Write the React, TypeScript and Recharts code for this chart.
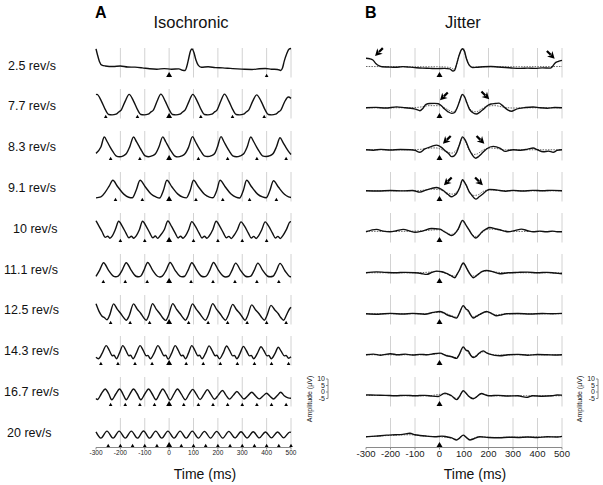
import React from "react";
import { ComposedChart, Line, Scatter, XAxis, YAxis, ReferenceLine } from "recharts";

type Pt = [number, number];

const FONT = '"Liberation Sans", Arial, Helvetica, sans-serif';

// labels
const rateLabels = ["2.5 rev/s", "7.7 rev/s", "8.3 rev/s", "9.1 rev/s", "10 rev/s", "11.1 rev/s", "12.5 rev/s", "14.3 rev/s", "16.7 rev/s", "20 rev/s"];
const timeTicks = [-300, -200, -100, 0, 100, 200, 300, 400, 500];
const ampTicks = [-5, 0, 5, 10];

// stimulus onsets (ms) for the isochronic panels
const stim25 = [0, 400];
const stim77 = [-260, -130, 0, 130, 260, 390];
const stim83 = [-240, -120, 0, 120, 240, 360, 480];
const stim91 = [-220, -110, 0, 110, 220, 330, 440];
const stim10 = [-200, -100, 0, 100, 200, 300, 400];
const stim111 = [-270, -180, -90, 0, 90, 180, 270, 360, 450];
const stim125 = [-240, -160, -80, 0, 80, 160, 240, 320, 400, 480];
const stim143 = [-280, -210, -140, -70, 0, 70, 140, 210, 280, 350, 420, 490];
const stim167 = [-240, -180, -120, -60, 0, 60, 120, 180, 240, 300, 360, 420, 480];
const stim20 = [-250, -200, -150, -100, -50, 0, 50, 100, 150, 200, 250, 300, 350, 400, 450, 500];
const jitStim = [0];

// isochronic responses [time ms, amplitude uV]
const iso25: Pt[] = [[-300, 13.4], [-294, 9], [-286, 4], [-276, 1.2], [-262, 0.6], [-230, 0.2], [-200, 0.6], [-170, -0.2], [-140, -0.3], [-110, -0.8], [-80, -1.5], [-50, -1.8], [-20, -1.4], [10, -1.8], [40, -1.6], [55, -2.6], [66, -2.8], [72, 0], [80, 6], [88, 12], [94, 13.2], [101, 11], [110, 5], [120, 1], [132, -0.4], [160, 0], [190, -0.6], [220, -0.8], [250, -1.2], [280, -1.6], [310, -1.9], [340, -2], [370, -1.5], [395, -1.3], [420, -1.8], [445, -2], [458, -2.8], [465, -1], [472, 4], [482, 9.5], [492, 13.2], [500, 13.6]];
const iso77: Pt[] = [[-300, 9.8], [-296, 10], [-278, 5], [-260, -2], [-248, -5], [-234, -5.3], [-218, -4.8], [-208, -3.4], [-196, -1.5], [-180, 5], [-164, 10], [-146, 5], [-128, -2], [-116, -5], [-102, -5.3], [-86, -4.8], [-76, -3.4], [-64, -1.5], [-49, 5], [-34, 10.2], [-16, 5], [2, -2], [14, -5], [28, -5.3], [44, -4.8], [54, -3.4], [66, -1.5], [82, 5], [97, 10], [115, 5], [133, -2], [145, -5], [159, -5.3], [175, -4.8], [185, -3.4], [197, -1.5], [212, 5], [227, 10.2], [245, 5], [263, -2], [275, -5], [289, -5.3], [305, -4.8], [315, -3.4], [327, -1.5], [343, 5], [359, 9.6], [377, 5], [395, -2], [407, -5], [421, -5.3], [437, -4.8], [447, -3.4], [459, -1.5], [474, 4.5], [489, 8], [500, 7]];
const iso83: Pt[] = [[-300, -2.7], [-280, 2], [-266, 9.5], [-254, 6], [-242, 2], [-232, -1], [-218, -4.5], [-204, -5.2], [-188, -4.5], [-176, -3], [-162, 2], [-146, 9.5], [-134, 6], [-122, 2.2], [-112, -1], [-98, -4.6], [-84, -5.2], [-68, -4.4], [-56, -3], [-42, 2], [-26, 9.6], [-14, 6], [-2, 2], [8, -1], [22, -4.5], [36, -5.3], [52, -4.5], [64, -3.2], [80, 2], [96, 9.8], [108, 6], [120, 2], [130, -1], [144, -4.5], [158, -5], [174, -4.3], [186, -3], [198, 2], [213, 9.8], [225, 6], [237, 2], [247, -1], [261, -4.6], [276, -5.2], [292, -4.5], [306, -3], [320, 2], [335, 9.5], [347, 6], [359, 2], [369, -1], [383, -4.5], [398, -5], [414, -4.4], [426, -3], [440, 2], [455, 9], [467, 5.5], [479, 1.8], [489, -1], [500, -3.5]];
const iso91: Pt[] = [[-300, -5.3], [-280, -4.6], [-262, -1], [-246, 3.5], [-231, 7.8], [-211, 3], [-186, -2.5], [-166, -4.8], [-151, -5.2], [-136, 0], [-119, 7.8], [-99, 3.2], [-74, -2.4], [-54, -4.6], [-39, -5.4], [-24, 0], [-9, 7.9], [11, 3], [36, -2.5], [56, -4.8], [71, -5.3], [86, 0], [100, 7.8], [120, 3], [145, -2.6], [165, -4.7], [180, -5.2], [195, 0], [209, 7.8], [229, 3.2], [254, -2.4], [274, -4.8], [289, -5.4], [304, 0], [318, 7.8], [338, 3], [363, -2.5], [383, -4.6], [398, -5.2], [413, 0], [428, 7.5], [448, 2.8], [473, -2.6], [490, -4.5], [500, -5]];
const iso10: Pt[] = [[-300, 8.2], [-290, 5], [-275, 0], [-262, -4.2], [-252, -3.3], [-243, -4.8], [-233, -3], [-220, 2], [-207, 7.8], [-192, 4], [-177, -1], [-165, -4.5], [-155, -3.3], [-145, -4.8], [-135, -3], [-122, 1.5], [-109, 7.8], [-94, 4], [-79, -1], [-67, -4.5], [-57, -3.2], [-47, -4.9], [-37, -3], [-20, 1.5], [-5, 8], [10, 4], [25, -1], [37, -4.6], [47, -3.3], [57, -4.8], [67, -3], [80, 1.5], [93, 7.6], [108, 4], [123, -1], [135, -4.6], [145, -3.3], [155, -4.8], [165, -3], [179, 1.5], [193, 7.8], [208, 4], [223, -1], [235, -4.5], [245, -3.4], [255, -5], [265, -3], [280, 1.5], [295, 7.4], [310, 4], [325, -1], [337, -4.6], [347, -3.4], [357, -5], [367, -3], [380, 1.5], [394, 7.4], [409, 4], [424, -1], [436, -4.6], [446, -3.4], [456, -5], [466, -3], [482, 2], [496, 7.4], [500, 7.5]];
const iso111: Pt[] = [[-300, -2.7], [-285, 2], [-269, 7.5], [-249, 2], [-229, -2.5], [-219, -3], [-209, -2.5], [-193, 1.8], [-176, 7.5], [-156, 2], [-136, -2.6], [-126, -3], [-116, -2.4], [-103, 2], [-88, 7.7], [-68, 2], [-48, -2.6], [-38, -3.1], [-28, -2.5], [-12, 2], [4, 7.7], [24, 2], [44, -2.5], [54, -3], [64, -2.6], [78, 2], [93, 7.5], [113, 2], [133, -2.6], [143, -3], [153, -2.4], [167, 2], [182, 7.7], [202, 2], [222, -2.5], [232, -3.1], [244, -2.6], [258, 1.8], [273, 7.2], [293, 1.8], [313, -2.6], [323, -3], [335, -2.5], [349, 1.8], [364, 7.2], [384, 1.8], [404, -2.6], [414, -3], [426, -2.6], [440, 1.5], [455, 7], [475, 1.5], [495, -2.8], [500, -3]];
const iso125: Pt[] = [[-300, 7.4], [-288, 2], [-276, -1.6], [-265, -3], [-255, -4.5], [-244, -1], [-228, 7.4], [-213, 3.5], [-198, 0], [-188, -2.5], [-176, -4.8], [-164, -1.5], [-146, 7.4], [-131, 3.5], [-116, 0.2], [-106, -2.5], [-94, -4.8], [-84, -1.5], [-68, 7.6], [-53, 3.5], [-38, 0], [-28, -2.6], [-14, -4.9], [-3, -1.5], [15, 7.6], [30, 3.5], [45, 0], [55, -2.5], [67, -4.8], [78, -1.5], [96, 7.4], [111, 3.5], [126, 0], [136, -2.5], [149, -4.8], [160, -1.5], [179, 7.6], [194, 3.5], [209, 0], [219, -2.6], [231, -4.8], [242, -1.5], [261, 7], [276, 3.2], [291, 0], [301, -2.6], [312, -4.8], [322, -1.5], [339, 6.6], [354, 3], [369, 0], [379, -2.6], [391, -4.8], [401, -1.5], [418, 6.3], [433, 3], [448, 0], [458, -2.8], [470, -4.8], [480, -1.5], [492, 3], [500, 4.8]];
const iso143: Pt[] = [[-300, -1.8], [-290, -3], [-275, 1], [-258, 6.8], [-246, 3.5], [-233, -0.7], [-226, -0.4], [-216, -3], [-204, 1.2], [-190, 6.8], [-178, 3.5], [-165, -0.7], [-158, -0.4], [-148, -3], [-135, 1], [-119, 6.8], [-107, 3.5], [-94, -0.7], [-87, -0.5], [-77, -3], [-62, 1], [-46, 6.8], [-34, 3.5], [-21, -0.7], [-14, -0.4], [-4, -3.2], [10, 1], [25, 6.8], [37, 3.5], [50, -0.7], [57, -0.4], [67, -3], [79, 1], [93, 6.8], [105, 3.5], [118, -0.7], [125, -0.4], [135, -3], [149, 1], [164, 6.6], [176, 3.3], [189, -0.7], [196, -0.4], [206, -3], [221, 1], [236, 6.5], [248, 3.2], [261, -0.8], [268, -0.5], [278, -3], [291, 1], [305, 6.3], [317, 3], [330, -0.8], [337, -0.5], [347, -3], [362, 1], [377, 6], [389, 3], [402, -0.8], [409, -0.5], [419, -3], [434, 0.8], [448, 5.6], [460, 2.5], [473, -0.8], [480, -0.5], [490, -2.6], [500, -1.5]];
const iso167: Pt[] = [[-300, -2], [-294, -2.8], [-278, 1.5], [-262, 5.1], [-248, 1.5], [-235, -3], [-219, 1.3], [-203, 5.1], [-190, 1.5], [-176, -3], [-161, 1.3], [-146, 5], [-131, 1.5], [-116, -3], [-100, 1.3], [-84, 5], [-70, 1.5], [-54, -3], [-40, 1.3], [-26, 5], [-11, 1.2], [4, -3.2], [19, 1], [34, 5], [50, 1.2], [66, -3], [81, 1], [97, 4.8], [112, 1], [127, -2.8], [142, 0.8], [157, 4.6], [172, 0.8], [186, -2.6], [202, 0.5], [219, 3.9], [233, 0.5], [247, -2.5], [263, 0.3], [278, 3.2], [293, 0.3], [307, -2.4], [323, 0], [339, 2.6], [354, 0], [369, -2.3], [385, -0.2], [400, 1.9], [414, -0.4], [428, -2.4], [443, 0], [458, 2.6], [472, 0], [488, -1.6], [500, -1.8]];
const iso20: Pt[] = [[-300, 3.6], [-280, -1], [-255, 4.2], [-230, -1], [-205, 4.2], [-180, -1], [-155, 4.2], [-130, -1], [-105, 4.3], [-80, -1], [-55, 4.2], [-30, -1], [-5, 4.2], [20, -1], [45, 4.2], [70, -1], [95, 4.2], [120, -1], [145, 4], [170, -1], [195, 4], [220, -1], [245, 4], [270, -0.8], [295, 3.8], [320, -0.8], [345, 3.8], [370, -0.8], [395, 3.6], [420, -0.8], [445, 3.6], [470, -0.8], [495, 3.5], [500, 3.2]];

// jitter responses: measured (solid) and predicted (dotted)
const jit25: Pt[] = [[-300, 6.4], [-285, 6], [-272, 5], [-260, 2.5], [-246, 0.6], [-235, 0], [-210, -0.2], [-180, -0.4], [-150, 0.1], [-120, -0.3], [-100, -0.6], [-70, -1], [-40, -1.2], [-10, -1.4], [20, -1.2], [42, -1.6], [55, -3.2], [62, -2.6], [70, 2], [80, 8.5], [93, 13.4], [101, 12], [110, 6], [122, 1], [135, -0.5], [150, -0.4], [180, 0], [210, 0.2], [240, -0.2], [270, -0.5], [300, -1], [330, -1.2], [360, -1], [390, -1.2], [420, -0.8], [452, -1], [460, 0], [470, 2.5], [485, 4], [500, 4.8]];
const jit25p: Pt[] = [[-300, 0.2], [-200, 0.1], [-100, 0], [0, 0], [45, -0.6], [60, -2], [70, 2], [80, 8.5], [93, 13], [101, 11.5], [110, 6], [122, 1], [135, -0.3], [200, 0.1], [300, 0], [400, 0.1], [500, 0.2]];
const jit77: Pt[] = [[-300, 0], [-260, 0.3], [-220, -0.2], [-175, 0.7], [-140, 0], [-110, -0.5], [-95, -1.2], [-80, -2.2], [-68, -0.5], [-55, 2.5], [-40, 3.2], [-20, 3.3], [-5, 3], [8, 1.5], [20, -0.8], [35, -3], [50, -4.2], [62, -3.5], [72, 0], [82, 5], [93, 10], [103, 8], [112, 3.5], [122, -1], [135, -3.5], [150, -4.6], [165, -3.2], [180, -1], [195, 1.5], [210, 2.8], [228, 3.2], [243, 3.5], [255, 2], [267, 0], [280, -1.8], [295, -2.6], [308, -1.5], [325, -0.5], [350, 0.2], [382, 0.6], [410, 0], [440, -0.3], [470, 0.2], [500, 0]];
const jit77p: Pt[] = [[-300, 0], [-200, 0], [-120, 0], [-80, 0.5], [-40, 1.6], [0, 1.5], [30, -1], [55, -3], [70, -1], [82, 4.5], [93, 9.5], [104, 7], [118, 1], [135, -2.5], [150, -3], [170, -1], [195, 1.2], [225, 1.6], [260, 0.5], [300, -0.2], [350, 0], [500, 0]];
const jit83: Pt[] = [[-300, 0], [-270, -0.3], [-240, 0.3], [-200, -0.2], [-160, 0.2], [-120, 0], [-100, -0.4], [-80, -1.9], [-60, 0.6], [-32, 2.5], [-12, 3.5], [8, 1.8], [22, -0.5], [36, -2.6], [49, -5.1], [60, -4.5], [70, -1.9], [80, 3], [94, 9.6], [104, 7.5], [112, 4.5], [122, 0], [131, -3.1], [148, -6.3], [160, -5], [171, -3.1], [192, 0.6], [219, 2.5], [246, 1.3], [267, -1.2], [285, -0.4], [301, 0], [330, -0.3], [360, 0.5], [382, 1.3], [400, 0], [423, -1.5], [445, -1], [464, -1.9], [480, -0.5], [500, 0]];
const jit83p: Pt[] = [[-300, 0], [-150, 0], [-80, 0.3], [-40, 1.2], [-15, 1.4], [10, 0], [30, -1.5], [50, -2.5], [68, -0.5], [80, 3], [94, 8.8], [106, 6], [120, 0], [140, -3.5], [155, -3], [175, -0.5], [205, 1.3], [230, 1], [270, 0], [500, 0]];
const jit91: Pt[] = [[-300, 0], [-250, -0.2], [-200, 0.2], [-150, -0.1], [-110, 0.2], [-80, -1], [-55, 0.5], [-32, 1.8], [-12, 2.4], [15, 0.2], [35, -2.8], [49, -4.5], [60, -3.5], [70, -2], [83, 2.7], [94, 8.2], [103, 6], [110, 3.8], [122, -1], [131, -3.1], [148, -6.2], [162, -4.5], [178, -2.2], [192, 0], [205, 1], [225, 0.8], [246, 0.2], [270, -0.3], [300, 0.3], [340, -0.2], [380, 0.3], [420, 0], [460, 0.3], [500, 0]];
const jit91p: Pt[] = [[-300, 0], [-150, 0], [-80, 0.2], [-30, 1.2], [0, 0.8], [30, -1.5], [52, -2.5], [70, -1], [83, 2.7], [94, 8], [105, 5.5], [120, 0], [140, -3.5], [158, -3], [178, -0.5], [205, 0.8], [240, 0.3], [300, 0], [500, 0]];
const jit10: Pt[] = [[-300, 0], [-257, 1.8], [-230, 0.5], [-202, 0], [-175, 0.8], [-148, 1.8], [-120, 0.5], [-100, -0.4], [-70, 0.5], [-32, 2.4], [2, 2], [20, 0], [36, -1.7], [49, -2.9], [62, -1.5], [76, 2], [94, 8.5], [110, 4.4], [122, 1], [131, -1.7], [148, -4.6], [160, -3], [171, -0.5], [190, 2], [205, 3.2], [230, 2.2], [246, 1.5], [265, 0.5], [280, 0], [310, 1], [334, 2], [360, 0.8], [382, 0], [410, 0.5], [436, 0], [460, 0.5], [480, 0], [500, 0]];
const jit10p: Pt[] = [[-300, 0.3], [-150, 0.3], [-50, 1], [-10, 1.5], [20, 0.5], [45, -2], [62, -1], [78, 2], [94, 7.8], [110, 4], [128, -1], [148, -3.5], [170, -1], [200, 2], [240, 1.5], [280, 0.3], [500, 0.2]];
const jit111: Pt[] = [[-300, 0], [-257, 0.7], [-220, 0.3], [-180, 0], [-140, 0.3], [-100, 0], [-75, -0.5], [-53, -1.2], [-30, 0.3], [-12, 1.2], [10, 0.8], [29, -0.5], [45, -2], [63, -3.7], [72, -1], [80, 1.5], [97, 7.3], [105, 5.5], [110, 3.7], [125, -1], [138, -3.7], [150, -2.4], [158, -1.2], [175, 1], [192, 1.7], [219, 0.7], [246, -0.7], [280, 0], [320, 0.3], [360, 0.5], [400, 0], [440, 0.3], [470, -0.2], [500, -0.7]];
const jit111p: Pt[] = [[-300, 0], [-100, 0], [-40, 0.5], [-10, 1], [20, 0], [50, -2], [65, -2.5], [80, 1.5], [97, 6.8], [112, 3], [130, -2.5], [145, -2.2], [165, 0], [195, 1.5], [230, 0.5], [270, 0], [500, 0]];
const jit125: Pt[] = [[-300, 0], [-250, -0.3], [-200, 0.3], [-150, -0.2], [-110, 0.3], [-60, -0.3], [-26, 1], [2, 1.7], [20, 0.5], [29, -0.7], [50, -2], [70, -3.2], [80, 0], [97, 6.1], [108, 3.5], [117, 2.4], [128, -1], [138, -3.2], [150, -2], [165, -0.5], [192, 1.7], [215, 0], [232, -1.5], [255, -0.7], [273, 0], [320, 0.2], [370, -0.2], [420, 0.2], [460, 0], [500, 0.3]];
const jit125p: Pt[] = [[-300, 0], [-60, 0], [-10, 1], [20, 0.5], [50, -1.5], [68, -2.5], [80, 0], [97, 5.6], [115, 2], [135, -2.5], [155, -1], [190, 1.2], [230, -0.8], [270, 0], [500, 0]];
const jit143: Pt[] = [[-300, 0], [-270, 0.5], [-240, -0.3], [-200, 0.8], [-170, 0], [-140, 0.5], [-110, -0.2], [-80, 0.3], [-50, 0], [-32, 0.5], [2, 1.2], [29, -0.7], [50, -1.5], [70, -2.7], [80, 0], [97, 5.9], [108, 3.5], [117, 2.9], [128, -0.5], [138, -2], [150, -1], [158, 0.5], [178, 2.9], [192, 1.5], [205, 0.5], [246, -0.7], [280, 0], [320, 0.3], [360, -0.3], [400, 0.2], [440, 0], [470, -0.2], [500, 0]];
const jit143p: Pt[] = [[-300, 0], [-50, 0], [0, 0.8], [30, -0.3], [65, -2], [80, 0], [97, 5.3], [115, 2], [135, -1.5], [150, -0.8], [178, 2.2], [210, 0.3], [250, -0.3], [300, 0], [500, 0]];
const jit167: Pt[] = [[-300, 0.7], [-260, 0.5], [-220, 0.3], [-180, 0], [-140, 0.3], [-100, 0], [-60, 0.3], [-30, -0.3], [-5, -0.5], [22, 2], [49, 0], [70, -2.9], [80, -1], [97, 3.7], [108, 2], [117, 0], [138, -2.2], [150, -1], [171, 1.7], [190, 0.5], [205, 0], [240, 0.3], [280, -0.2], [320, 0], [355, -1.2], [380, 0], [420, -0.3], [460, 0], [480, 0.6], [500, 0.5]];
const jit167p: Pt[] = [[-300, 0.3], [-50, 0], [20, 1.3], [50, -0.3], [70, -2], [97, 3.2], [120, -0.3], [138, -1.8], [171, 1.3], [210, 0], [500, 0]];
const jit20: Pt[] = [[-300, 0], [-260, 0.5], [-216, 1.2], [-180, 1.5], [-150, 1.8], [-121, 2.6], [-100, 1.5], [-80, 1], [-53, 0.5], [-20, 0], [10, 0.5], [29, 0], [50, -0.8], [70, -2.4], [82, -1], [97, 1.2], [108, -0.3], [124, -2.4], [140, -1.5], [165, 0], [200, -0.5], [246, -0.7], [280, -0.3], [320, -0.5], [360, -0.2], [400, -0.5], [440, 0], [480, -0.2], [500, 0.3]];
const jit20p: Pt[] = [[-300, 0], [-200, 1], [-120, 1.5], [-60, 0.5], [0, 0], [50, -1], [70, -2], [97, 1], [124, -2], [160, 0], [220, -0.5], [300, -0.3], [500, 0]];

// arrow annotations [time, amplitude at tip, direction]
const arrows25: [number, number, string][] = [[-263, 8.1, "l"], [470, 6, "r"]];
const arrows77: [number, number, string][] = [[2, 5.6, "l"], [203, 6.3, "r"]];
const arrows83: [number, number, string][] = [[14, 4.5, "l"], [183, 4.5, "r"]];
const arrows91: [number, number, string][] = [[18, 4.1, "l"], [177, 4.1, "r"]];

const isoSeries = [iso25, iso77, iso83, iso91, iso10, iso111, iso125, iso143, iso167, iso20];
const isoStims = [stim25, stim77, stim83, stim91, stim10, stim111, stim125, stim143, stim167, stim20];
const jitSeries = [jit25, jit77, jit83, jit91, jit10, jit111, jit125, jit143, jit167, jit20];
const jitPred = [jit25p, jit77p, jit83p, jit91p, jit10p, jit111p, jit125p, jit143p, jit167p, jit20p];
const jitArrows = [arrows25, arrows77, arrows83, arrows91];

// layout
const LEFT_X = 96;
const RIGHT_X = 366;
const PLOT_H = 29.5;
const M = { top: 3, right: 14, bottom: 2, left: 14 };
const rowTop = (i: number) => 48.3 + 41.1 * i;
const labelLeft = [8, 8, 8, 8, 13, 4, 4, 4, 4, 7];

const toPts = (a: Pt[]) => a.map(([t, v]) => ({ t, v }));

const Triangle = (p: any) => {
  const big = (p.payload ? p.payload.t : p.t) === 0;
  const w = big ? 3 : 1.8;
  const h = big ? 5 : 3.2;
  const y0 = p.cy - 0.6;
  return <polygon points={`${p.cx - w},${y0} ${p.cx + w},${y0} ${p.cx},${y0 - h}`} fill="#000" />;
};

const Arrow = (p: any) => {
  const dir = p.payload ? p.payload.dir : p.dir;
  const ang = dir === "l" ? 135 : 45;
  return (
    <g transform={`translate(${p.cx},${p.cy}) rotate(${ang})`}>
      <polygon points="0,0 -7,-3.8 -5,0 -7,3.8" fill="#000" />
      <line x1={-5.5} y1={0} x2={-11} y2={0} stroke="#000" strokeWidth={2.2} />
    </g>
  );
};

function Panel({ left, top, width, solid, pred, stims, arrows, last, tickFont }: any) {
  const labH = 16;
  const W = width + M.left + M.right;
  const H = PLOT_H + M.top + M.bottom + (last ? labH : 0);
  return (
    <div style={{ position: "absolute", left: left - M.left, top: top - M.top }}>
      <ComposedChart width={W} height={H} margin={M}>
        {last ? (
          <XAxis type="number" dataKey="t" domain={[-300, 500]} ticks={timeTicks} interval={0} height={labH} tickSize={2} tickMargin={1} stroke="#8a8a8a" tick={{ fontSize: tickFont, fill: "#1a1a1a", fontFamily: FONT }} />
        ) : (
          <XAxis type="number" dataKey="t" domain={[-300, 500]} ticks={timeTicks} interval={0} height={0} mirror tick={false} tickSize={2} stroke="#8a8a8a" />
        )}
        <YAxis type="number" dataKey="v" domain={[-8, 14]} ticks={[0, 14]} width={0} mirror tick={false} tickSize={2} stroke="#8a8a8a" />
        {timeTicks.slice(1).map((t) => (
          <ReferenceLine key={t} x={t} stroke="#d2d2d2" strokeWidth={1} />
        ))}
        {pred && (
          <Line data={toPts(pred)} dataKey="v" type="monotone" stroke="#555" strokeWidth={0.9} strokeDasharray="1.5 1.2" dot={false} isAnimationActive={false} />
        )}
        <Line data={toPts(solid)} dataKey="v" type="monotone" stroke="#111" strokeWidth={1.4} dot={false} isAnimationActive={false} />
        <Scatter data={stims.map((t: number) => ({ t, v: -8 }))} shape={Triangle} isAnimationActive={false} />
        {arrows && (
          <Scatter data={arrows.map(([t, v, dir]: any) => ({ t, v, dir }))} shape={Arrow} isAnimationActive={false} />
        )}
      </ComposedChart>
    </div>
  );
}

function ScaleBar({ axisX }: { axisX: number }) {
  const topPx = 378.5;
  const h = 19.5;
  return (
    <div style={{ position: "absolute", left: axisX - 22, top: topPx - 4 }}>
      <ComposedChart width={26} height={h + 8} margin={{ top: 4, right: 4, bottom: 4, left: 0 }} data={ampTicks.map((v) => ({ t: 0, v }))}>
        <XAxis dataKey="t" type="number" hide />
        <YAxis dataKey="v" type="number" domain={[-5, 10]} ticks={ampTicks} interval={0} width={22} tickSize={2} tickMargin={1} stroke="#8a8a8a" tick={{ fontSize: 7, fill: "#1a1a1a", fontFamily: FONT }} />
      </ComposedChart>
    </div>
  );
}

export default function App() {
  return (
    <div style={{ position: "absolute", left: 0, top: 0, width: 603, height: 485, background: "#fff", overflow: "hidden", fontFamily: FONT }}>
      {isoSeries.map((s, i) => (
        <Panel key={"iso" + i} left={LEFT_X} top={rowTop(i)} width={195} solid={s} stims={isoStims[i]} last={i === 9} tickFont={6.5} />
      ))}
      {jitSeries.map((s, i) => (
        <Panel key={"jit" + i} left={RIGHT_X} top={rowTop(i)} width={196} solid={s} pred={jitPred[i]} stims={jitStim} arrows={jitArrows[i]} last={i === 9} tickFont={9.5} />
      ))}
      <ScaleBar axisX={328} />
      <ScaleBar axisX={598} />
      <svg width={603} height={485} style={{ position: "absolute", left: 0, top: 0, pointerEvents: "none" }} fontFamily={FONT}>
        <text x={95} y={18} fontSize={16} fontWeight="bold" fill="#000">A</text>
        <text x={191} y={28} fontSize={16.5} textAnchor="middle" fill="#111">Isochronic</text>
        <text x={365} y={18} fontSize={16} fontWeight="bold" fill="#000">B</text>
        <text x={463} y={28} fontSize={16.5} textAnchor="middle" fill="#111">Jitter</text>
        {rateLabels.map((r, i) => (
          <text key={r} x={labelLeft[i]} y={69.5 + 40.8 * i} fontSize={12.5} fill="#111">{r}</text>
        ))}
        <text x={205} y={479} fontSize={14} textAnchor="middle" fill="#111">Time (ms)</text>
        <text x={475} y={479} fontSize={14} textAnchor="middle" fill="#111">Time (ms)</text>
        <text x={312} y={399} fontSize={7} textAnchor="middle" transform="rotate(-90 312 399)" fill="#222">Amplitude (µV)</text>
        <text x={582} y={399} fontSize={7} textAnchor="middle" transform="rotate(-90 582 399)" fill="#222">Amplitude (µV)</text>
      </svg>
    </div>
  );
}
